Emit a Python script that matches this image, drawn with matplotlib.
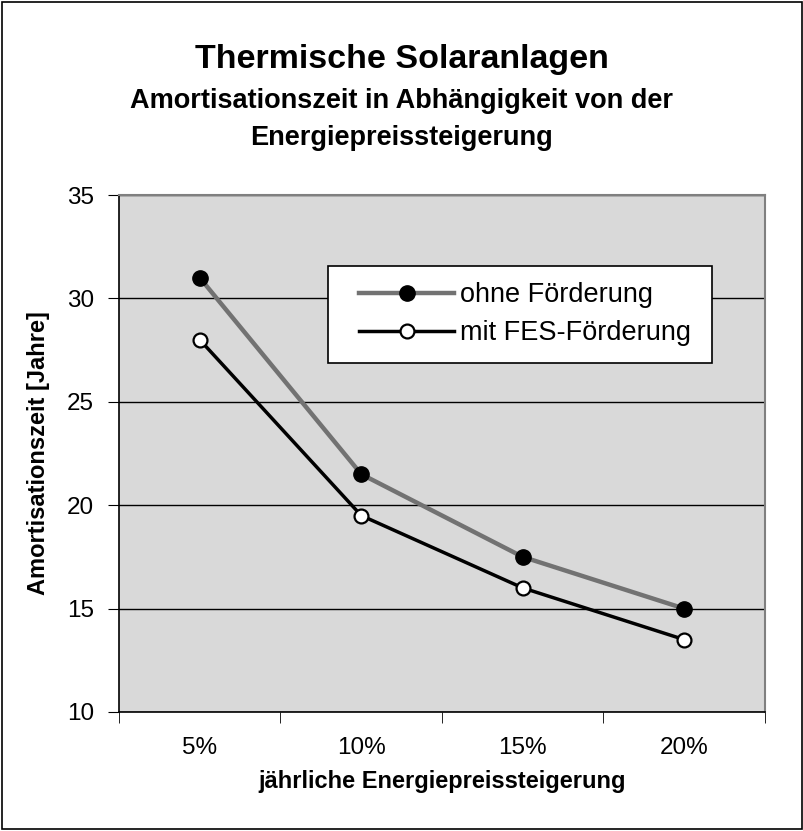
import matplotlib.pyplot as plt
from matplotlib.patches import Rectangle
from matplotlib.path import Path

plt.rcParams['font.family'] = ['Liberation Sans', 'DejaVu Sans']

# data
categories = ["5%", "10%", "15%", "20%"]
ohne_foerderung = [31.0, 21.5, 17.5, 15.0]
mit_fes_foerderung = [28.0, 19.5, 16.0, 13.5]

fig = plt.figure(figsize=(8.04, 8.31), dpi=100)
ax = fig.add_axes([119 / 804, 1 - 712 / 831, 646 / 804, 517 / 831])

# black frame round the whole chart
fig.patches.append(Rectangle((0.002, 0.002), 0.996, 0.996, transform=fig.transFigure,
                             fill=False, edgecolor='black', linewidth=1.2))

ax.set_facecolor('#d9d9d9')
x = range(len(categories))

ax.plot(x, ohne_foerderung, color='#727272', linewidth=3.2, marker='o',
        markersize=11, markerfacecolor='black', markeredgecolor='black',
        label='ohne Förderung', zorder=3)
ax.plot(x, mit_fes_foerderung, color='black', linewidth=2.5, marker='o',
        markersize=10, markerfacecolor='white', markeredgecolor='black',
        markeredgewidth=1.6, label='mit FES-Förderung', zorder=4)

ax.set_xlim(-0.5, len(categories) - 0.5)
ax.set_ylim(10, 35)
ax.set_yticks([10, 15, 20, 25, 30, 35])
ax.set_xticks(x)
ax.set_xticklabels(categories)
ax.set_xticks([i - 0.5 for i in range(len(categories) + 1)], minor=True)
ax.tick_params(axis='x', which='major', length=0, pad=18, labelsize=17.5)
ax.tick_params(axis='x', which='minor', length=8, direction='out', color='black')
ax.tick_params(axis='y', length=8, direction='out', labelsize=17.5, pad=10)

ax.yaxis.grid(True, color='black', linewidth=1)
ax.set_axisbelow(True)
for side in ['top', 'right']:
    ax.spines[side].set_color('#808080')
    ax.spines[side].set_linewidth(1.5)
for side in ['left', 'bottom']:
    ax.spines[side].set_color('black')
    ax.spines[side].set_linewidth(1.2)

ax.set_xlabel('jährliche Energiepreissteigerung', fontsize=17, fontweight='bold', labelpad=8)
ax.set_ylabel('Amortisationszeit [Jahre]', fontsize=17, fontweight='bold', labelpad=12)


# legend frame with more room left and right than above and below
def legend_box(x0, y0, width, height, mutation_size):
    left = 0.55 * mutation_size
    right = 0.2 * mutation_size
    x1 = x0 + width + right
    x0 = x0 - left
    y1 = y0 + height
    return Path([(x0, y0), (x1, y0), (x1, y1), (x0, y1), (x0, y0)], closed=True)


leg = ax.legend(loc='upper left', bbox_to_anchor=(0.347, 0.863), borderaxespad=0,
                fontsize=19.5, frameon=True, fancybox=False, edgecolor='black',
                facecolor='white', framealpha=1, handlelength=3.5, handletextpad=0.2,
                borderpad=0.6, labelspacing=0.45)
leg.get_frame().set_boxstyle(legend_box)
leg.get_frame().set_linewidth(1.2)

fig.text(0.5, 1 - 68 / 831, 'Thermische Solaranlagen', ha='center', va='baseline',
         fontsize=24.5, fontweight='bold')
fig.text(0.5, 1 - 108 / 831, 'Amortisationszeit in Abhängigkeit von der', ha='center',
         va='baseline', fontsize=19.5, fontweight='bold')
fig.text(0.5, 1 - 145 / 831, 'Energiepreissteigerung', ha='center', va='baseline',
         fontsize=19.5, fontweight='bold')

fig.savefig('out.png', dpi=100)
